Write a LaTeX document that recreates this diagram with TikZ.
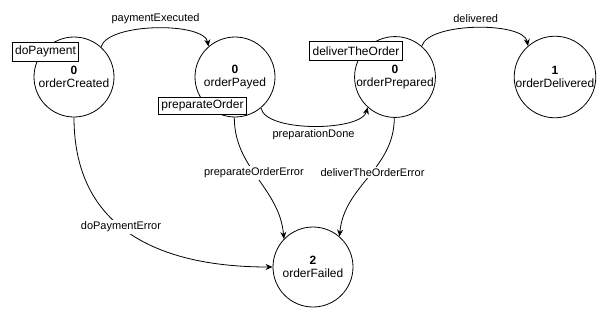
\documentclass[tikz,border=0pt]{standalone}
\usepackage{fontspec}
\setmainfont{Liberation Sans}
\usetikzlibrary{arrows.meta, positioning}

\begin{document}
\begin{tikzpicture}[x=1pt, y=1pt, >={Stealth[length=7pt, width=6pt]},
          line width=0.8pt,
          state/.style={circle, draw, minimum size=80pt, inner sep=0pt,
            align=center, font=\fontsize{12}{13.5}\selectfont},
          action/.style={draw, fill=white, inner xsep=3pt, inner ysep=0pt,
            minimum height=19pt, font=\fontsize{12}{14}\selectfont},
          lbl/.style={font=\fontsize{11}{13}\selectfont, inner sep=1.5pt}]
        \useasboundingbox (0,0) rectangle (605,317);
        \foreach \n/\x/\k/\t in {created/74/0/orderCreated, payed/235/0/orderPayed,
            prepared/395/0/orderPrepared, delivered/555/1/orderDelivered}{
          \node[state] (\n) at (\x,240) {\textbf{\k}\\\t};
        }
        \node[state] (failed) at (313,50) {\textbf{2}\\orderFailed};
        \draw[->] (created.48) to[out=75, in=100, looseness=0.6]
              node[lbl, above=3pt] {paymentExecuted} (payed.131);
        \draw[->] (prepared.49) to[out=75, in=100, looseness=0.6]
              node[lbl, above=3pt] {delivered} (delivered.131);
        \draw[->] (payed.-50) to[out=-80, in=-105, looseness=0.6]
              node[lbl, below=2pt] {preparationDone} (prepared.-132);
        \draw[->] (created.-90) .. controls +(0,-120) and +(-100,0) ..
              node[lbl, fill=white, pos=0.43] {doPaymentError} (failed.180);
        \draw[->] (payed.-91) to[out=-90, in=95]
              node[lbl, fill=white, pos=0.45] {preparateOrderError} (failed.136);
        \draw[->] (prepared.-91) to[out=-90, in=85]
              node[lbl, fill=white, pos=0.45] {deliverTheOrderError} (failed.49);
        \node[action] (doPay) at (45.5,265.5) {doPayment};
        \node[action, minimum height=17pt] (prepOrder) at (202.5,211.5) {preparateOrder};
        \node[action] (deliverOrder) at (356,266) {deliverTheOrder};
      \end{tikzpicture}
\end{document}
